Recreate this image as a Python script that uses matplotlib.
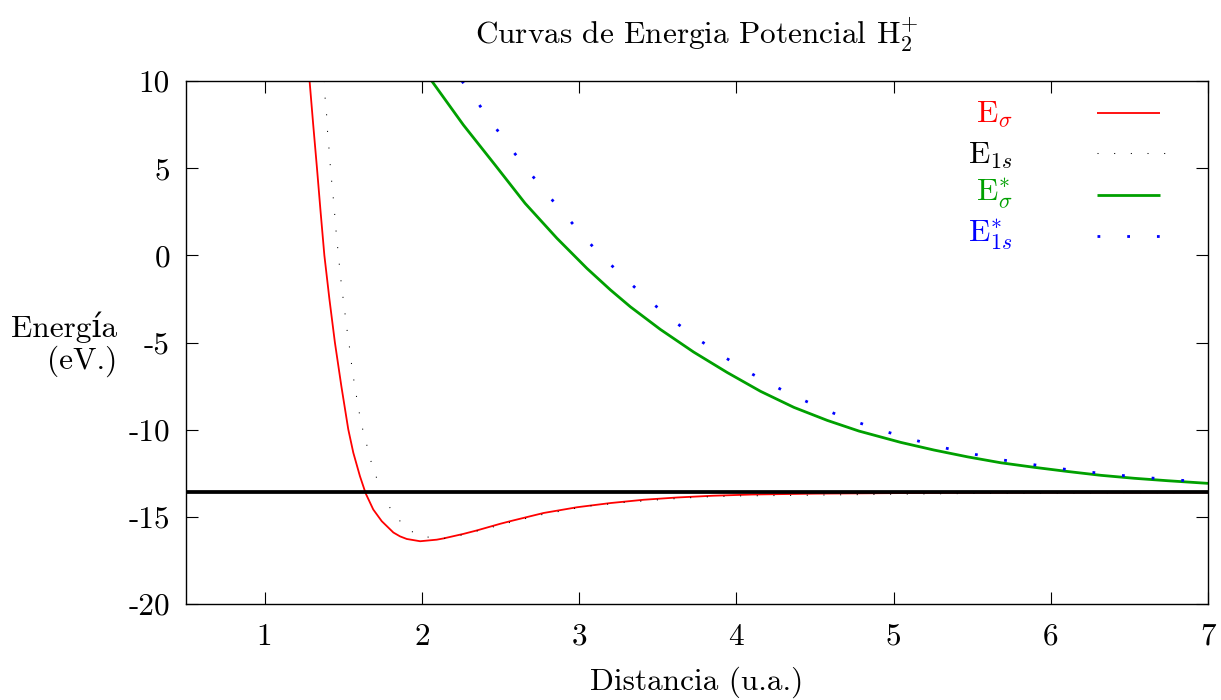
import matplotlib
matplotlib.use("Agg")
import matplotlib.pyplot as plt

plt.rcParams['font.family'] = ['cmr10', 'DejaVu Serif']
plt.rcParams['mathtext.fontset'] = 'cm'
plt.rcParams['axes.unicode_minus'] = False
plt.rcParams['axes.formatter.use_mathtext'] = False

# ---- data ----
x_sigma = [1.286, 1.309, 1.333, 1.356, 1.380, 1.412, 1.447, 1.488, 1.532, 1.564, 1.606, 1.643,
           1.691, 1.745, 1.819, 1.861, 1.904, 1.989, 2.095, 2.137, 2.264, 2.350, 2.498, 2.562,
           2.774, 2.987, 3.199, 3.411, 3.624, 3.850, 4.100, 4.500, 5.000, 5.500, 6.000, 6.500, 7.000]
e_sigma = [10.0, 7.5, 5.0, 2.5, 0.0, -2.5, -5.0, -7.5, -9.98, -11.32, -12.66, -13.66,
           -14.58, -15.25, -15.90, -16.12, -16.27, -16.40, -16.31, -16.24, -15.98, -15.78, -15.40, -15.25,
           -14.78, -14.45, -14.21, -14.02, -13.89, -13.79, -13.72, -13.67, -13.64, -13.62, -13.61, -13.61, -13.60]

x_1s = [1.380, 1.385, 1.394, 1.400, 1.409, 1.417, 1.430, 1.441, 1.449, 1.458, 1.469, 1.479,
        1.487, 1.500, 1.513, 1.526, 1.541, 1.553, 1.568, 1.585, 1.613, 1.640, 1.666, 1.681,
        1.717, 1.791, 1.853, 1.929, 2.027, 2.133, 2.237, 2.339, 2.441, 2.543, 2.645, 2.747,
        2.850, 2.955, 3.060, 3.165, 3.270, 3.373, 3.480, 3.590, 3.690, 3.800, 4.010, 4.460,
        5.000, 5.500, 6.000, 6.500, 7.000]
e_1s = [10.0, 9.0, 8.09, 7.13, 6.17, 5.22, 3.87, 2.92, 1.96, 1.02, 0.07, -0.90,
        -1.56, -2.52, -3.46, -4.40, -5.35, -6.25, -7.19, -8.13, -9.60, -10.54, -11.43, -11.97,
        -12.89, -14.40, -15.17, -15.82, -16.15, -16.25, -16.08, -15.84, -15.61, -15.36, -15.13, -14.90,
        -14.73, -14.54, -14.38, -14.29, -14.18, -14.12, -14.04, -13.97, -13.91, -13.86, -13.80, -13.76,
        -13.70, -13.66, -13.64, -13.62, -13.61]

x_sigma_star = [2.063, 2.264, 2.466, 2.657, 2.859, 3.050, 3.199, 3.326, 3.517, 3.729, 3.942,
                4.154, 4.366, 4.579, 4.780, 5.046, 5.258, 5.471, 5.683, 5.895, 6.108, 6.320,
                6.532, 6.745, 7.000]
e_sigma_star = [10.0, 7.48, 5.18, 2.98, 0.98, -0.75, -1.98, -2.95, -4.25, -5.55, -6.72,
                -7.80, -8.72, -9.47, -10.08, -10.73, -11.17, -11.56, -11.90, -12.16, -12.40, -12.62,
                -12.79, -12.93, -13.08]

x_1s_star = [2.255, 2.324, 2.445, 2.570, 2.702, 2.836, 2.974, 3.114, 3.264, 3.420, 3.581,
             3.749, 3.923, 4.105, 4.292, 4.481, 4.678, 4.878, 5.080, 5.281, 5.487, 5.696,
             5.906, 6.114, 6.324, 6.536, 6.747, 7.000]
e_1s_star = [10.0, 9.16, 7.61, 6.08, 4.57, 3.10, 1.66, 0.23, -1.08, -2.39, -3.62,
             -4.76, -5.83, -6.83, -7.73, -8.53, -9.28, -9.91, -10.46, -10.96, -11.36, -11.74,
             -12.03, -12.30, -12.51, -12.70, -12.85, -13.02]

e_hydrogen = -13.6

labels = [r'E$_{\sigma}$', r'E$_{\mathbf{1}s}$', r'E$^{*}_{\sigma}$', r'E$^{*}_{\mathbf{1}s}$']
colors = ['#ff0000', '#000000', '#00a000', '#0000ff']

x_ticks = [1, 2, 3, 4, 5, 6, 7]
y_ticks = [-20, -15, -10, -5, 0, 5, 10]

FS = 22.5

fig = plt.figure(figsize=(12.21, 7), dpi=100)
ax = fig.add_axes([186 / 1221, 1 - 604 / 700, 1022 / 1221, 523 / 700])

styles = [
    dict(color=colors[0], lw=1.3, ls='-'),
    dict(color=colors[1], lw=0.75, ls=(0, (1, 15))),
    dict(color=colors[2], lw=2.0, ls='-'),
    dict(color=colors[3], lw=2.0, ls=(0, (1, 9.7))),
]
series = [(x_sigma, e_sigma), (x_1s, e_1s), (x_sigma_star, e_sigma_star), (x_1s_star, e_1s_star)]
for (xs, ys), st in zip(series, styles):
    ax.plot(xs, ys, dash_capstyle='butt', solid_capstyle='butt', solid_joinstyle='round', **st)

ax.axhline(e_hydrogen, color='black', lw=2.7, zorder=5)

ax.set_xlim(0.5, 7)
ax.set_ylim(-20, 10)
ax.set_xticks(x_ticks)
ax.set_yticks(y_ticks)
ax.set_xticklabels([str(v) for v in x_ticks])
ax.set_yticklabels([str(v) for v in y_ticks])
ax.tick_params(direction='in', length=8.6, width=0.8, top=True, right=True,
               labelsize=FS, color='black')
ax.tick_params(axis='x', pad=13.5)
ax.tick_params(axis='y', pad=11.5)
for s in ax.spines.values():
    s.set_linewidth(1.0)
    s.set_color('black')

# key (gnuplot style: right-aligned label followed by a sample)
line_y = [0.938, 0.862, 0.782, 0.704]
text_y = [0.921, 0.841, 0.771, 0.692]
line_x1 = [0.953, 0.971, 0.953, 0.971]
for lab, col, st, ly, ty, x1 in zip(labels, colors, styles, line_y, text_y, line_x1):
    ax.text(0.809, ty, lab, color=col, fontsize=FS, ha='right', va='baseline',
            transform=ax.transAxes)
    ax.plot([0.891, x1], [ly, ly], transform=ax.transAxes, dash_capstyle='butt',
            solid_capstyle='butt', clip_on=False, **st)

fig.text(697 / 1221, 1 - 44 / 700, r'Curvas de Energia Potencial H$_{\mathbf{2}}^{+}$',
         fontsize=FS, ha='center', va='baseline')
fig.text(697 / 1221, 1 - 690 / 700, 'Distancia (u.a.)', fontsize=FS, ha='center', va='baseline')
fig.text(117 / 1221, 1 - 337 / 700, 'Energía', fontsize=FS, ha='right', va='baseline')
fig.text(117 / 1221, 1 - 369 / 700, '(eV.)', fontsize=FS, ha='right', va='baseline')

fig.savefig('out.png', dpi=100)
